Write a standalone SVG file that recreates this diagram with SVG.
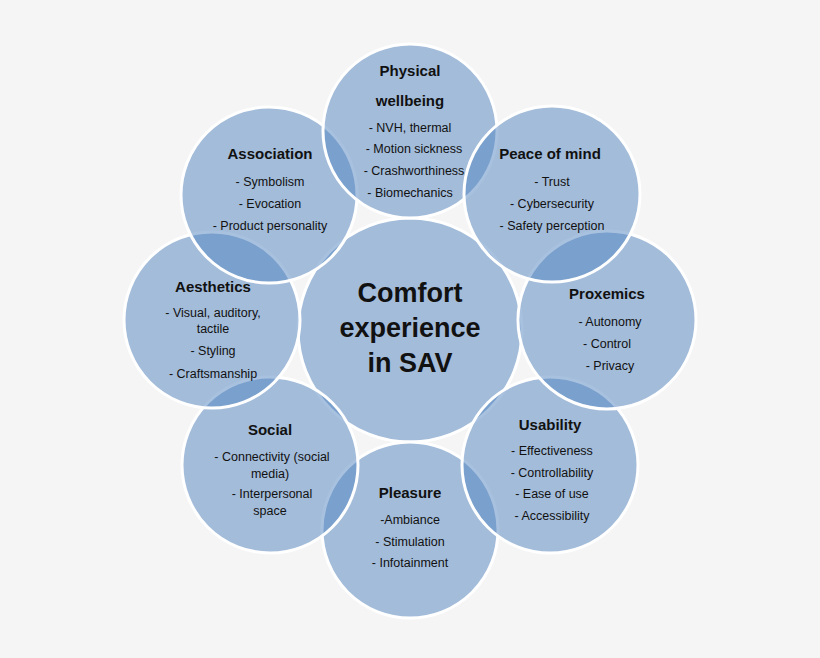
<svg xmlns="http://www.w3.org/2000/svg" width="820" height="658" viewBox="0 0 820 658">
<style>
.c{fill:rgb(81,131,191);fill-opacity:.5;stroke:#fff;stroke-width:3}
text{font-family:"Liberation Sans",Arial,sans-serif;fill:#111;text-anchor:middle}
.t{font-size:15px;font-weight:bold}
.i{font-size:12.5px}
.m{font-size:27px;font-weight:bold}
</style>
<rect width="820" height="658" fill="#f5f5f5"/>
<g id="center"><circle class="c" cx="410" cy="330" r="112"/>
<text class="m" x="410" y="302">Comfort</text><text class="m" x="410" y="337">experience</text><text class="m" x="410" y="372">in SAV</text></g>
<g id="pleasure"><circle class="c" cx="410" cy="530" r="88"/>
<text class="t" x="410" y="498">Pleasure</text><text class="i" x="410" y="524">-Ambiance</text><text class="i" x="410" y="546">- Stimulation</text><text class="i" x="410" y="567">- Infotainment</text></g>
<g id="social"><circle class="c" cx="270" cy="465" r="88"/>
<text class="t" x="270" y="435">Social</text><text class="i" x="272" y="461">- Connectivity (social</text><text class="i" x="270" y="478">media)</text><text class="i" x="272" y="498">- Interpersonal</text><text class="i" x="270" y="515">space</text></g>
<g id="usability"><circle class="c" cx="550" cy="465" r="88"/>
<text class="t" x="550" y="430">Usability</text><text class="i" x="552" y="455">- Effectiveness</text><text class="i" x="552" y="477">- Controllability</text><text class="i" x="552" y="498">- Ease of use</text><text class="i" x="552" y="520">- Accessibility</text></g>
<g id="aesthetics"><circle class="c" cx="212" cy="320" r="88"/>
<text class="t" x="213" y="292">Aesthetics</text><text class="i" x="213" y="317">- Visual, auditory,</text><text class="i" x="213" y="333">tactile</text><text class="i" x="213" y="355">- Styling</text><text class="i" x="213" y="378">- Craftsmanship</text></g>
<g id="proxemics"><circle class="c" cx="607" cy="320" r="89"/>
<text class="t" x="607" y="299">Proxemics</text><text class="i" x="610" y="326">- Autonomy</text><text class="i" x="607" y="348">- Control</text><text class="i" x="610" y="370">- Privacy</text></g>
<g id="association"><circle class="c" cx="269" cy="195" r="88"/>
<text class="t" x="270" y="159">Association</text><text class="i" x="270" y="186">- Symbolism</text><text class="i" x="270" y="208">- Evocation</text><text class="i" x="270" y="230">- Product personality</text></g>
<g id="physical"><circle class="c" cx="410" cy="131" r="87"/>
<text class="t" x="410" y="76">Physical</text><text class="t" x="410" y="106">wellbeing</text><text class="i" x="410" y="132">- NVH, thermal</text><text class="i" x="414" y="153">- Motion sickness</text><text class="i" x="414" y="175">- Crashworthiness</text><text class="i" x="410" y="197">- Biomechanics</text></g>
<g id="peace"><circle class="c" cx="552" cy="194" r="88"/>
<text class="t" x="550" y="159">Peace of mind</text><text class="i" x="552" y="186">- Trust</text><text class="i" x="552" y="208">- Cybersecurity</text><text class="i" x="552" y="230">- Safety perception</text></g>
</svg>
